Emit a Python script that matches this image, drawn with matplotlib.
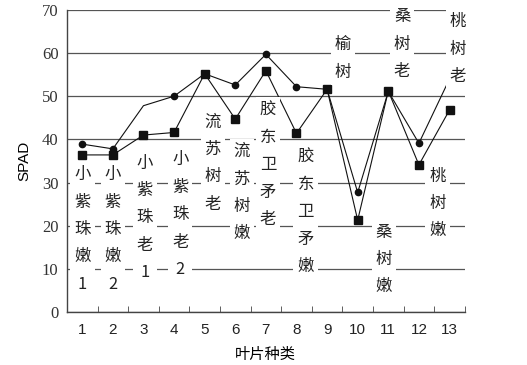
import matplotlib
matplotlib.use("Agg")
import matplotlib.pyplot as plt
import numpy as np

plt.rcParams['font.family'] = ['Noto Sans CJK SC', 'DejaVu Sans']

# leaf types 1..13
cats = list(range(1, 14))
spad_circle = [38.9, 37.8, 47.8, 50.0, 55.2, 52.6, 59.7, 52.2, 51.6, 27.7, 51.1, 39.1, 54.0]
spad_square = [36.4, 36.4, 41.0, 41.6, 55.2, 44.7, 55.9, 41.4, 51.6, 21.3, 51.2, 34.1, 46.8]

# vertical name labels
names = ["小紫珠嫩1", "小紫珠嫩2", "小紫珠老1", "小紫珠老2", "流苏树老", "流苏树嫩",
         "胶东卫矛老", "胶东卫矛嫩", "榆树", "桑树老", "桑树嫩", "桃树嫩", "桃树老"]
# where each label column sits (x in category units, y of its top)
name_x = [1.0, 2.0, 3.05, 4.2, 5.27, 6.22, 7.07, 8.3, 9.52, 11.45, 10.86, 12.6, 13.28]
name_top = [33.8, 33.8, 36.5, 37.2, 46.0, 39.1, 48.8, 37.9, 63.9, 70.4, 20.5, 33.5, 69.2]

fig = plt.figure(figsize=(5.27, 3.65), dpi=100)
ax = fig.add_axes([0.127, 0.145, 0.755, 0.828])

ax.plot(cats, spad_circle, color='#111111', lw=0.8, marker='o', ms=4.5,
        markevery=[i for i in range(13) if i != 2], zorder=3)
ax.plot(cats, spad_square, color='#111111', lw=0.8, marker='s', ms=6, zorder=3)

for t, x, y in zip(names, name_x, name_top):
    ax.text(x, y, "\n".join(t), ha='center', va='top', fontsize=11.8, color='#222222',
            linespacing=1.8, zorder=6,
            bbox=dict(facecolor='white', edgecolor='none', pad=3))

ax.set_xlim(0.5, 13.5)
ax.set_ylim(0, 70)
ax.set_yticks(range(0, 71, 10))
ax.set_xticks(cats)
ax.set_xticks(np.arange(1.5, 13.6, 1), minor=True)
ax.tick_params(axis='x', which='major', length=0, pad=8, labelsize=11, colors='#222222')
ax.tick_params(axis='x', which='minor', length=4, direction='in', color='#444444')
ax.tick_params(axis='y', length=0, pad=6, colors='#333333')
for lab in ax.get_yticklabels():
    lab.set_family('Liberation Serif')
    lab.set_fontsize(12)
for lab in ax.get_xticklabels():
    lab.set_family('Liberation Sans')

ax.yaxis.grid(True, color='#555555', lw=0.9)
ax.set_axisbelow(True)
for s in ['top', 'right']:
    ax.spines[s].set_visible(False)
for s in ['left', 'bottom']:
    ax.spines[s].set_color('#444444')
    ax.spines[s].set_linewidth(1.0)

ax.set_ylabel('SPAD', fontsize=11, family='Liberation Sans', labelpad=8)
ax.set_xlabel('叶片种类', fontsize=11, labelpad=6)

fig.savefig('out.png', dpi=100)
